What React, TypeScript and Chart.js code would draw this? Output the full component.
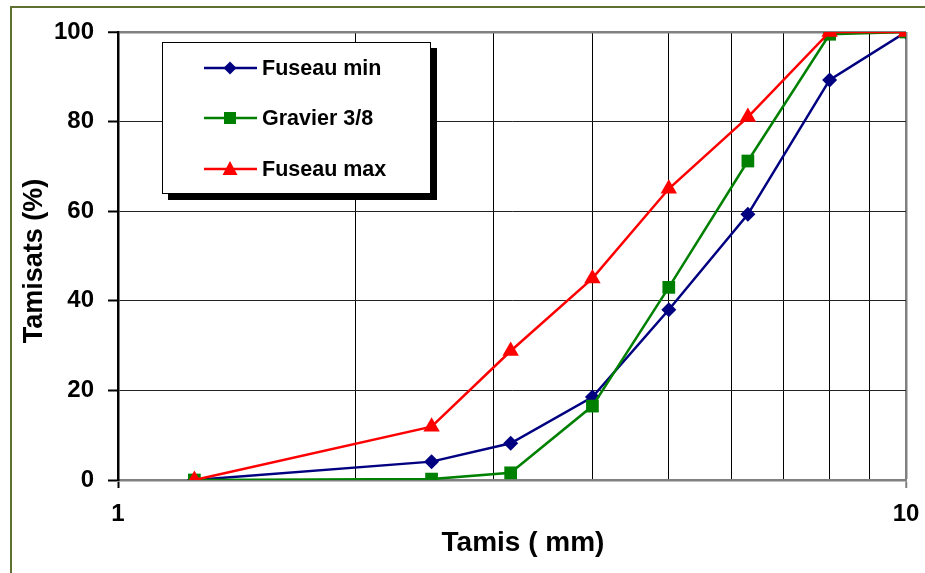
import React, { useEffect, useRef } from "react";
import { Chart, registerables } from "chart.js";

Chart.register(...registerables);

const sieves = [1.25, 2.5, 3.15, 4, 5, 6.3, 8, 10];
const fuseauMin = [0, 4.1, 8.2, 18.5, 38, 59.3, 89.3, 100];
const gravier = [0, 0.2, 1.6, 16.5, 43, 71.2, 99.5, 100];
const fuseauMax = [0, 11.9, 28.8, 45, 65, 81, 100, 100];
const xTicks = [1, 2, 3, 4, 5, 6, 7, 8, 9, 10];
const xLabelTicks = [1, 10];
const yTitle = "Tamisats (%)";
const xTitle = "Tamis ( mm)";

const FONT = 'Arial, "Liberation Sans", sans-serif';

const toPoints = (ys: number[]) => sieves.map((x, i) => ({ x, y: ys[i] }));

export default function App() {
  const ref = useRef<HTMLCanvasElement | null>(null);

  useEffect(() => {
    const canvas = ref.current;
    if (!canvas) return;

    const decor = {
      id: "decor",
      beforeDraw(chart: any) {
        const ctx = chart.ctx;
        ctx.save();
        ctx.fillStyle = "#fff";
        ctx.fillRect(0, 0, chart.width, chart.height);
        ctx.strokeStyle = "#5f7131";
        ctx.lineWidth = 2;
        ctx.beginPath();
        ctx.moveTo(11, chart.height + 5);
        ctx.lineTo(11, 7);
        ctx.lineTo(chart.width + 5, 7);
        ctx.stroke();
        ctx.restore();
      },
      afterDatasetsDraw(chart: any) {
        const ctx = chart.ctx;
        ctx.save();
        ctx.fillStyle = "#000";
        ctx.fillRect(168, 48, 269, 152);
        ctx.fillStyle = "#fff";
        ctx.fillRect(162, 42, 268, 151);
        ctx.strokeStyle = "#000";
        ctx.lineWidth = 1;
        ctx.strokeRect(162.5, 42.5, 268, 151);
        const rows = [68, 118, 169];
        [0, 1, 2].forEach((di, r) => {
          const ds = chart.data.datasets[di];
          const y = rows[r];
          ctx.strokeStyle = ds.borderColor;
          ctx.lineWidth = 2.5;
          ctx.beginPath();
          ctx.moveTo(204, y);
          ctx.lineTo(257, y);
          ctx.stroke();
          ctx.fillStyle = ds.backgroundColor;
          ctx.beginPath();
          const s = ds.pointStyle;
          if (s === "rectRot") {
            ctx.moveTo(230, y - 6.5);
            ctx.lineTo(236.5, y);
            ctx.lineTo(230, y + 6.5);
            ctx.lineTo(223.5, y);
          } else if (s === "rect") {
            ctx.rect(224, y - 6, 12, 12);
          } else {
            ctx.moveTo(230, y - 8);
            ctx.lineTo(237.5, y + 6);
            ctx.lineTo(222.5, y + 6);
          }
          ctx.closePath();
          ctx.fill();
          ctx.fillStyle = "#000";
          ctx.font = `bold 21.5px ${FONT}`;
          ctx.textAlign = "left";
          ctx.textBaseline = "middle";
          ctx.fillText(ds.label, 262, y + 1);
        });
        ctx.restore();
      },
      afterDraw(chart: any) {
        const ctx = chart.ctx;
        ctx.save();
        ctx.fillStyle = "#000";
        ctx.textAlign = "center";
        ctx.textBaseline = "middle";
        ctx.font = `bold 28px ${FONT}`;
        ctx.fillText(xTitle, 523, 543);
        ctx.translate(35, 261);
        ctx.rotate(-Math.PI / 2);
        ctx.font = `bold 27px ${FONT}`;
        ctx.fillText(yTitle, 0, 0);
        ctx.restore();
      },
    };

    const chart = new Chart(canvas, {
      type: "line",
      data: {
        datasets: [
          {
            label: "Fuseau min",
            data: toPoints(fuseauMin),
            borderColor: "#000080",
            backgroundColor: "#000080",
            pointStyle: "rectRot",
            pointRadius: 7.5,
            pointBorderWidth: 0,
            borderWidth: 2.5,
            order: 2,
          },
          {
            label: "Gravier 3/8",
            data: toPoints(gravier),
            borderColor: "#008000",
            backgroundColor: "#008000",
            pointStyle: "rect",
            pointRadius: 9,
            pointBorderWidth: 0,
            borderWidth: 2.5,
            order: 1,
          },
          {
            label: "Fuseau max",
            data: toPoints(fuseauMax),
            borderColor: "#ff0000",
            backgroundColor: "#ff0000",
            pointStyle: "triangle",
            pointRadius: 9.5,
            pointBorderWidth: 0,
            borderWidth: 2.5,
            order: 0,
          },
        ],
      },
      options: {
        responsive: false,
        animation: false,
        events: [],
        layout: { padding: { top: 32, right: 19, left: 0, bottom: 0 } },
        plugins: {
          legend: { display: false },
          tooltip: { enabled: false },
        },
        scales: {
          x: {
            type: "logarithmic",
            min: 1,
            max: 10,
            afterBuildTicks: (scale: any) => {
              scale.ticks = xTicks.map((v) => ({ value: v }));
            },
            afterFit: (scale: any) => {
              scale.height = 93;
              scale.paddingLeft = 0;
              scale.paddingRight = 0;
            },
            ticks: {
              autoSkip: false,
              maxRotation: 0,
              padding: 12,
              color: "#000",
              font: { family: FONT, size: 24, weight: "bold" },
              callback: (v: any) => (xLabelTicks.includes(Number(v)) ? String(v) : ""),
            },
            grid: {
              color: (c: any) => (c.tick && c.tick.value === 10 ? "#808080" : "#000"),
              lineWidth: (c: any) => (c.tick && c.tick.value === 10 ? 2.5 : 1),
              tickLength: 8,
              tickColor: (c: any) =>
                c.tick && xLabelTicks.includes(c.tick.value)
                  ? c.tick.value === 10
                    ? "#808080"
                    : "#000"
                  : "rgba(0,0,0,0)",
              tickWidth: 2,
            },
            border: { color: "#808080", width: 2.5 },
          },
          y: {
            min: 0,
            max: 100,
            afterFit: (scale: any) => {
              scale.width = 118;
              scale.paddingTop = 0;
              scale.paddingBottom = 0;
            },
            ticks: {
              stepSize: 20,
              padding: 14,
              color: "#000",
              font: { family: FONT, size: 24, weight: "bold" },
            },
            grid: {
              color: (c: any) => (c.tick && c.tick.value === 100 ? "#808080" : "#222"),
              lineWidth: (c: any) => (c.tick && c.tick.value === 100 ? 2.5 : 1),
              tickLength: 10,
              tickColor: "#000",
              tickWidth: 2,
            },
            border: { color: "#000", width: 2.5 },
          },
        },
      },
      plugins: [decor],
    } as any);

    return () => chart.destroy();
  }, []);

  return (
    <div style={{ position: "absolute", left: 0, top: 0, width: 925, height: 573 }}>
      <canvas ref={ref} width={925} height={573} style={{ display: "block" }} />
    </div>
  );
}
